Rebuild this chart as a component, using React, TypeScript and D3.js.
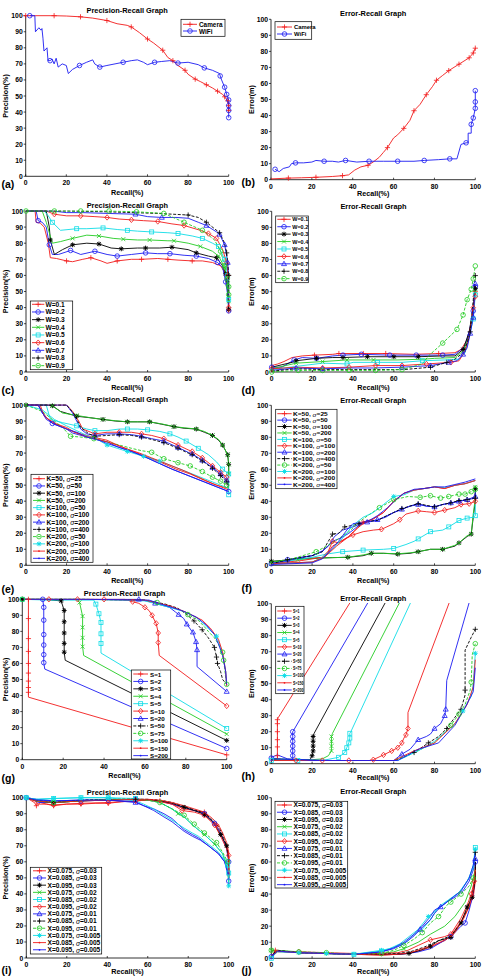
import React from 'react';
import * as d3 from 'd3';

// Each point: [recall %, value, 1 if a marker is drawn there]
type Pt = number[];

// ---------- (a)/(b) Camera vs WiFi ----------
const camWifiNames = ['Camera', 'WiFi'];
const aLines: Pt[][] = [
  [[0,100,1],[5,100],[14,100,1],[20,99.8],[27,99.3,1],[33,98.5],[40,97,1],[45,95],[50,94],[52,93,1],[56,89.5],[60,85.5,1],[63,83],[67.5,78.5,1],[70,74],[72.5,72,1],[75,69],[78.5,66,1],[80,63.5],[83.5,60.5,1],[86,59],[89,57,1],[92,55],[94.5,53,1],[97,51],[98,49.5,1],[99.5,47,1],[100,44,1],[100,41,1]],
  [[2,100,1],[4.5,100],[4.8,90],[6.5,92.5],[7.5,91],[8,92],[8.5,86],[9,78],[10.5,80],[11,72],[12,72,1],[13,73],[14,70],[15,73.5],[16,68],[18,70],[20,69],[21,64],[23,66.5],[26.5,69,1],[30,71],[33,72.5],[34,70],[36.5,68,1],[40,69],[44,70],[48,71,1],[52,72],[55,72.5],[58,71],[60,69.5],[63.5,71,1],[67,71.5],[71,72],[75,70.5,1],[80,71],[85,69.5],[88,67.5,1],[92,66],[95.5,64],[95.8,62.5,1],[96.5,60],[98,55.5,1],[99,51,1],[100,47.5,1],[100,44,1],[100,41,1],[100,36.5,1]],
];
const bLines: Pt[][] = [
  [[0,0.5],[8.5,1,1],[15,1.2],[22,1.5,1],[30,2],[35,2.5,1],[38,3],[41,6],[44,8],[47.5,9,1],[50,11],[53,14],[55,17],[57,20,1],[60,26],[62,28],[65,32,1],[68,37],[70,43,1],[73,47],[76,53,1],[79,58],[81,62,1],[84,65],[87,68,1],[92,72,1],[97,76,1],[99,79,1],[100,82,1]],
  [[2,6.5,1],[4,5],[6,7],[9,8],[10,10],[12,10.5,1],[16,10.5],[20,11],[22,12],[26,11.5,1],[30,11.5],[33,11],[36.5,12,1],[42,11],[48,11.5,1],[55,11.5],[62,11.5,1],[70,11.5],[75,12,1],[82,12.5],[87.5,13,1],[91,13],[93,22],[95.5,23,1],[96.5,23],[96.5,29],[98,29],[98,34.5,1],[99,38.5,1],[100,44.5,1],[100,48.5,1],[100,49],[100,55.5,1]],
];

// ---------- (c)/(d) weight W ----------
const wNames = ['W=0.1','W=0.2','W=0.3','W=0.4','W=0.5','W=0.6','W=0.7','W=0.8','W=0.9'];
const cLines: Pt[][] = [
  [[0,100],[4.5,100],[5,93],[7,92.5],[9,90],[11,80],[12,71],[15,70.5],[20,69,1],[23,68.5],[28,70],[32,71,1],[37,69],[40,67.5],[45,69,1],[52,70],[57,70,1],[65,70.5],[70,70,1],[75,69.5],[82,69,1],[87,69],[92,68],[96,66],[98,62],[99,55],[100,45],[100,38,1]],
  [[0,100],[5,100],[6,94,1],[8,93],[10,90],[11.5,79,1],[13,73],[16,73],[22,75.5,1],[27,73],[34,75,1],[40,73],[45,72,1],[52,73],[59,74,1],[65,73.5],[71,73.5,1],[78,72.5],[84,72,1],[90,70.5],[94.5,68,1],[97,65],[98.5,56,1],[99.5,48],[100,38,1]],
  [[0,100],[10,100],[11.5,90],[12,82,1],[14,73],[18,76],[23,79,1],[30,80],[36,79.5,1],[42,77],[47,76.5,1],[55,77],[59,77,1],[66,77],[72,77.5,1],[80,76],[84,74,1],[90,72],[94,71,1],[97,66],[98.5,61,1],[99.5,52],[100,39,1]],
  [[0,100],[8,100],[10,93],[13,80],[17,81],[23,83,1],[30,85],[36,84.5,1],[43,83],[48,82.5,1],[55,82],[61,82,1],[70,81.5],[73,81.5,1],[80,80],[86,78,1],[92,75],[95,72,1],[98,65,1],[99.5,55,1],[100,44,1]],
  [[0,100],[9,100],[11,97],[13,93,1],[17,88],[25,89,1],[30,89],[38,89.5,1],[45,88.5],[50,88,1],[55,87.5],[62,87,1],[70,86.5],[75,86,1],[82,84.5],[87,83,1],[92,80],[95,78,1],[98,70,1],[99.5,60,1],[100,45,1]],
  [[0,100],[10,100],[14,98,1],[20,97],[27,97,1],[34,96.5],[40,96,1],[46,95],[52,94.5,1],[58,94],[65,93.5,1],[72,92],[78,91,1],[86,88],[90,86,1],[94,83,1],[97,76],[99,68,1],[99.7,60,1],[100,50],[100,40,1]],
  [[0,100],[13,100],[20,99],[28,99],[40,98.5],[54,98,1],[60,96.5],[67,96,1],[74,96],[80,95.5],[85,93],[89,91,1],[94,87],[95.5,85.5,1],[98,79,1],[99,72],[99.5,68,1],[100,60],[100,42]],
  [[0,100],[20,100],[40,99.5],[65,98.5],[80,97.5,1],[85,96],[89,93,1],[93,89],[95.5,86.5,1],[98,80],[99,74,1],[99.5,68],[100,60,1],[100,45]],
  [[0,100,1],[14,100,1],[27,100,1],[41,100,1],[54.5,99.5,1],[68,98.5,1],[78,93,1],[87,88,1],[93,82],[96,75,1],[98,66,1],[99.3,58,1],[100,53,1],[100,48,1],[100,42]],
];
const dLines: Pt[][] = [
  [[0,4],[3,5],[6,6.5],[10,9],[15,10],[21,10.5,1],[30,11],[33,11.5,1],[45,11.5,1],[56,11.5,1],[70,11],[82,11.5,1],[90,12],[93,14],[96,20],[98,30],[99,40],[100,50,1],[100,54]],
  [[0,3,1],[5,3],[11,7.5,1],[15,9],[22,8.5,1],[30,10],[35,10.5,1],[44,11,1],[58,10.5,1],[71,10.5,1],[84,10.5,1],[90,11],[95,16],[97,25],[99,38,1],[100,53,1]],
  [[0,3],[10,6],[12,7,1],[22,8.5,1],[30,9],[35,9,1],[47,9.5,1],[60,9.5,1],[72,9.5,1],[84,10],[90,10],[94,14,1],[97,25],[99,40],[100,52,1]],
  [[0,2],[12,5.5,1],[25,6.5,1],[37,7.5,1],[50,7.5,1],[62,7.5],[75,8],[80,8.5],[90,9],[94,13],[97,22],[99,35],[100,50,1]],
  [[0,1.5],[12,3.5],[25,5.5],[37,5,1],[40,6],[52,6,1],[64,6],[74,7,1],[85,7.5],[92,8],[95,12],[97,22],[99,33,1],[100,48,1]],
  [[0,2,1],[12,3],[25,2.5,1],[38,3,1],[51,4,1],[64,4,1],[76,5,1],[88,6,1],[92,7],[95,13],[97,22],[99,40,1],[100,47,1]],
  [[0,1],[12,2.5,1],[25,2,1],[38,2.5],[50,2.5],[64,3,1],[78,4,1],[87,6,1],[91,7],[94,11,1],[96,15],[97.5,24,1],[99,34,1],[100,55,1]],
  [[0,0.5],[12,2],[25,1.5],[40,1.5],[50,1.5],[65,1.5],[78,3,1],[86,6,1],[90,8],[94,12],[96,18],[97.5,25,1],[99,45],[100,60,1]],
  [[0,0,1],[13,1,1],[25,1,1],[38,1,1],[51,1,1],[64,1.5,1],[74,5],[77,10],[84,18,1],[91,26.5,1],[94,35.5,1],[96,45,1],[98,51.5,1],[99,58,1],[100,66,1]],
];

// ---------- (e)/(f) K and sigma ----------
const kNames = ['K=50, σ=25','K=50, σ=50','K=50, σ=100','K=50, σ=200','K=100, σ=50','K=100, σ=100','K=100, σ=200','K=100, σ=400','K=200, σ=50','K=200, σ=100','K=200, σ=200','K=200, σ=400'];
const eLines: Pt[][] = [
  [[0,100],[7,100],[9,93],[13,89],[20,86],[24,83],[33,80],[40,78],[46,74.5],[53,71],[60,67.5],[67,64],[74,60],[81,57],[88,53],[94,50],[100,48]],
  [[0,100],[6,100],[8,95],[13,88.5,1],[20,85],[23,82.5],[33,79],[40,77],[45,74],[52,71],[58,68],[65,64],[72,60],[80,56],[88,52],[94,49],[100,46,1]],
  [[0,100,1],[10,100],[13,99.5,1],[17,96],[25,93,1],[32,92],[38,91,1],[44,90],[50,89.5,1],[55,89.5],[61,89.5,1],[67,88],[73,86.5,1],[78,85.5],[84,85,1],[88,83],[92,81,1],[95,78],[97,75,1],[99.5,69,1],[100,63,1],[100,57]],
  [[0,100,1],[10,100],[13,99.5,1],[18,95],[25,93.5,1],[32,92],[38,91,1],[44,90.2],[50,89.5,1],[56,89.5],[61,89.5,1],[67,88.2],[73,86.5,1],[78,85.8],[84,85,1],[88,83.5],[92,81,1],[95,78.5],[97,75,1],[99.5,69,1],[100,63,1],[100,57,1]],
  [[0,100],[10,100],[12,91],[18,89],[25,87,1],[30,85],[34,84,1],[40,84],[46,85],[50,85,1],[55,85],[60,84.5,1],[66,83.5],[71,82,1],[75,80],[79,77.5,1],[85,73,1],[90,69],[94,64.5],[97,60,1],[100,57,1],[100,44,1]],
  [[0,100],[20,100],[23,96],[26,90],[28,85],[34,82,1],[40,83],[46,83,1],[52,83],[57,82,1],[62,81],[68,79,1],[75,75,1],[80,72],[82,71,1],[87,67,1],[92,62,1],[96,58,1],[99,55,1],[100,52]],
  [[0,100],[20,100],[23,95],[27,85],[30,82],[34,81,1],[40,82],[46,82,1],[52,81.5],[57,80.5,1],[62,79],[68,77.5,1],[75,73.5,1],[80,70.5],[82,69.5,1],[87,65.5,1],[92,61,1],[96,57,1],[99,53,1],[100,50]],
  [[0,100],[20,100],[24,94],[27,86],[31,82],[34,80.5,1],[40,81],[46,81.5,1],[52,81],[57,80,1],[62,78.5],[68,76.5,1],[75,73,1],[80,70],[82,69,1],[87,65,1],[92,60.5,1],[96,56,1],[99,52,1],[100,49]],
  [[0,100],[8,96],[14,90],[18,86],[22,80.5,1],[27,80],[33.5,79,1],[40,77],[46,75],[52,73],[57,71.5],[62,70.5,1],[68,66.5,1],[75,64,1],[81,62,1],[87,58.5,1],[92,55,1],[96,52.5,1],[99,50,1],[100,48]],
  [[0,100],[8,97],[14,91],[20,87],[25,84],[30,81],[36,78],[40,75,1],[45,73],[50,71,1],[58,68,1],[66,65,1],[72,62],[80,58],[88,54],[94,51],[100,48]],
  [[0,100],[6,100],[10,92],[15,88],[22,84],[28,81],[34,79],[40,77],[45,75],[50,72.5],[56,70],[62,67],[70,63],[78,59],[85,55],[92,51],[100,47]],
  [[0,100],[6,100],[10,91],[14,88],[20,85],[25,83],[30,80],[36,78],[40,76],[45,74],[52,71],[58,68],[65,64],[72,60],[80,56],[88,52],[94,49],[100,46]],
];
const fLines: Pt[][] = [
  [[0,1],[20,2],[26,5],[30,12],[34,15],[38,18],[42,23],[45,27,1],[50,29],[55,33],[60,40],[65,45],[70,47],[75,48],[80,49],[85,48],[90,50],[95,51],[100,53]],
  [[0,1,1],[8,3.5,1],[15,5],[20,6],[25,8.5],[30,15],[34,17],[38,20],[43,25],[47,27],[52,28],[55,30],[60,33],[64,35],[68,37],[72,38.5],[76,37],[80,36.5],[84,38],[88,39],[92,40],[96,41],[100,42]],
  [[0,2.5,1],[5,3],[12,4],[20,4.5],[30,4.8],[37.5,5,1],[45,6],[49,7.5,1],[55,7.5],[62,7,1],[68,7.5],[72,8.5,1],[78,10],[84,10,1],[90,12],[92,14,1],[96,18],[98,19.5,1],[99,30],[100,40],[100,48,1]],
  [[0,2,1],[6,3],[13,3.5,1],[20,4.2],[30,4.8],[37.5,5,1],[45,6.5],[49,7.5,1],[55,7.5],[62,7.2,1],[68,7.8],[72,8.5,1],[78,10],[84,10,1],[90,12.5],[92,14,1],[96,18.5],[98,19.5,1],[99,32],[100,42],[100,49,1]],
  [[0,1],[10,3],[20,5],[27,7],[35,8.5,1],[45,9.5,1],[55,10],[60,10.5,1],[66,13],[70,15],[72,16.5,1],[78,21,1],[84,22],[87,24,1],[92,28,1],[96,29.5,1],[99,30],[100,31,1],[100,38]],
  [[0,1],[15,3],[20,4],[25,5],[28,9],[30,15,1],[33,14],[37,17],[40,19,1],[45,21],[50,22],[54,22.5,1],[60,26],[63,28.5,1],[66,32],[72,34,1],[76,33.5],[80,33,1],[85,34.5,1],[90,36],[93,38,1],[97,38.5,1],[100,40,1],[100,45]],
  [[0,1],[8,3],[15,5],[20,6],[25,9],[28,12],[31,18],[35,22],[40,24],[44,26],[47,27,1],[52,28.5,1],[56,30],[60,33],[64,35,1],[68,37],[72,38,1],[76,37],[80,36.5,1],[84,38],[88,39,1],[92,40,1],[96,41,1],[100,43,1],[100,46]],
  [[0,1],[8,3.5,1],[15,5],[20,6],[25,8.5],[30,19.5,1],[33,20],[36,24,1],[40,25],[43,26,1],[47,27.5],[52,28],[55,30],[60,33],[64,35.5,1],[68,37],[72,38.5,1],[76,37.5],[80,36.5,1],[84,38],[88,39,1],[92,40.5,1],[96,41,1],[100,42,1],[100,45]],
  [[0,2],[10,4],[22,8.5,1],[30,14],[38,21],[45,29],[53,36,1],[60,41,1],[67,43],[73,42.5,1],[78,43.5,1],[83,42,1],[87,43,1],[92,44.5,1],[95,44.5,1],[98,46,1],[100,47.5,1],[100,50]],
  [[0,1],[20,2],[25,5],[30,10],[35,17],[40,25],[45,30],[50,33],[55,38],[60,43,1],[65,44],[70,47],[75,48],[80,49],[85,48.5],[90,50],[95,51],[100,53]],
  [[0,1],[20,2],[26,5],[32,12],[38,18],[42,23],[45,26],[50,29],[55,33],[60,40],[65,45],[70,47],[80,49],[85,48],[90,50],[95,51],[100,53]],
  [[0,0.5],[20,1.5],[25,4],[28,8],[33,15],[37,22],[40,26],[45,27],[48,28],[52,31],[57,36],[62,42],[65,45],[70,47.5],[75,48],[80,49],[85,49],[90,50.5],[95,52],[100,54]],
];

// ---------- (g)/(h) step S ----------
const sNames = ['S=1','S=2','S=3','S=4','S=5','S=10','S=20','S=50','S=75','S=100','S=150','S=200'];
const gLines: Pt[][] = [
  [[0,100,1],[3,100,1],[3,88,1],[3,75.5,1],[3,67.5,1],[3,60,1],[3,54,1],[3,49,1],[3,45,1],[3,42,1],[3,39],[100,3,1]],
  [[0,100],[10,100,1],[10.5,95,1],[10.5,87,1],[10.5,78,1],[10.5,71.5,1],[10.5,65.5,1],[10.5,60.5,1],[11,56.5],[100,7,1]],
  [[0,100,1],[10,100],[19,99,1],[20.5,93,1],[20.5,86,1],[20.5,79,1],[20.5,72.5,1],[20.5,67,1],[21,62],[100,12,1]],
  [[0,100],[27,100],[28,98,1],[29.5,89.5,1],[29.5,82.5,1],[29.5,76,1],[29.5,70.5,1],[30,65],[100,16,1]],
  [[0,100,1],[13,99.5],[35,99.5],[36,97,1],[37.5,91,1],[38.5,85.5,1],[38.5,78.5,1],[38.5,72.5,1],[38.5,66.5],[100,19.5,1]],
  [[0,100],[13,100,1],[27,100,1],[40,100,1],[50,100],[54,98.5,1],[57,97.5],[60,95,1],[62,93],[63.5,90,1],[65,86],[65.5,85,1],[66.5,79,1],[66.5,73,1],[67,65],[100,33.5,1]],
  [[0,100],[20,100],[40,100],[57,100,1],[64,98],[65,97.5,1],[72,95],[75,92],[76.5,90.5,1],[79,88],[80.5,84.5,1],[83,80],[83.5,79.5,1],[85,73.5,1],[85.5,68.5,1],[85.5,58],[100,42.5,1]],
  [[0,100],[30,100],[60,99.5],[70,97],[76,94.5],[80,91],[84,86.5,1],[88,81,1],[91,76],[94,70,1],[95,64,1],[95.5,60,1],[97,55],[98,50],[100,47]],
  [[0,100,1],[30,100],[60,99.5],[66,98,1],[71,96],[78,93],[81,90.5,1],[86,87],[89,83],[91,80],[94,76],[96,72],[98,67,1],[98.5,62,1],[99,57],[99.5,51],[100,47,1]],
  [[0,100],[30,100],[60,99],[72,95],[80,92],[86,88],[90,83],[95,77,1],[97,70],[98.5,63],[99.5,55],[100,46]],
  [[0,100],[30,100],[60,99.5],[72,96],[80,92],[88,87],[92,82],[96,75],[98,67],[99.5,55],[100,46]],
  [[0,100],[30,100],[62,99.5],[68,97],[78,93],[85,89],[90,84],[94,78],[96,72],[98,65],[99.5,55],[100,47]],
];
const hLines: Pt[][] = [
  [[0,3],[3,3],[3,5,1],[3,10.5,1],[3,15,1],[3,20,1],[3,25,1],[3,27.5,1],[3.5,29],[100,226]],
  [[0,3.5,1],[5,3],[10.5,2.5],[10.5,5,1],[10.5,8,1],[10.5,11,1],[10.5,14,1],[10.5,17,1],[10.5,20,1],[11,21],[100,216]],
  [[0,2.5],[10,2],[19,2.5],[20,5,1],[20.5,8,1],[20.5,11,1],[20.5,14,1],[20.5,17,1],[21,19],[100,204]],
  [[0,3],[20,2.5],[25,3],[28,5],[29.5,8,1],[29.5,11,1],[29.5,14,1],[29.5,17,1],[30,19],[100,193]],
  [[0,2,1],[13,2,1],[25,2],[33,4,1],[36,7,1],[37,10,1],[38,13,1],[38.5,16,1],[38.5,19,1],[39,20],[100,188]],
  [[0,2],[12,2,1],[25,2,1],[38,2,1],[48,2],[50,2.5,1],[55,5.5,1],[59,8,1],[62,10,1],[64,13,1],[65,16],[66,18,1],[67,22,1],[67,32],[100,144]],
  [[0,3],[30,2],[60,2],[64,6,1],[68,9],[72,15,1],[76,17],[78,18.5],[80,22,1],[83,25],[85,30,1],[85.5,34,1],[86,52],[100,114]],
  [[0,2],[60,2],[65,4],[70,7,1],[77,13,1],[82,17],[86,22,1],[90,29],[93,34,1],[95,43],[95,46,1],[95,71],[98,79],[100,84,1]],
  [[0,2],[60,2],[70,7],[80,13],[88,24,1],[92,31,1],[95,37],[97.5,46],[98,51,1],[98.5,68],[100,75,1]],
  [[0,2],[62,2],[72,8],[80,14],[90,25],[94,33,1],[97,40],[98,42],[99,50],[100,69,1]],
  [[0,2],[60,2],[70,8],[80,13],[90,25],[96,37],[99,48],[100,65]],
  [[0,4],[3,5.5],[8,3],[20,2],[62,2],[72,9],[82,13],[90,24],[95,35],[99,45],[100,60]],
];

// ---------- (i)/(j) X and sigma ----------
const xNames = ['X=0.075, σ=0.03','X=0.085, σ=0.03','X=0.095, σ=0.03','X=0.075, σ=0.02','X=0.085, σ=0.02','X=0.095, σ=0.02','X=0.075, σ=0.01','X=0.085, σ=0.01','X=0.095, σ=0.01','X=0.075, σ=0.005','X=0.085, σ=0.005','X=0.095, σ=0.005'];
const iLines: Pt[][] = [
  [[0,100,1],[4,97],[5,95,1],[7,97],[10,96],[13.5,95,1],[20,96],[27,96,1],[34,96.5],[40.5,96.5,1],[47,97.5],[54,98,1],[60,98.5],[66,98,1],[72,96],[78,93],[83,92],[88,91,1],[92,85],[94,83,1],[96,78],[98,72],[99,68],[100,62],[100,50]],
  [[0,100,1],[3,99],[6,97],[13.5,97,1],[27,98,1],[40.5,98.5,1],[54,99,1],[60,98.5],[66,98],[72,96],[78,94],[83,92],[88,90,1],[93,84,1],[96,78],[99,68],[100,60,1],[100,48,1]],
  [[0,100],[5,98],[13.5,97,1],[27,98],[40.5,98.5],[54,99],[60,98.5],[66,98],[72,96.5],[78,94,1],[83,92],[88,89.5,1],[92,85],[96,77,1],[99,70,1],[100,62],[100,50]],
  [[0,100],[5,98],[13.5,97,1],[27,98],[40.5,99],[54,99],[60,98.5],[66,97],[72,93],[75,90,1],[78,88],[83,82],[88,77,1],[93,71,1],[97,65],[99.5,55],[100,45]],
  [[0,100,1],[5,99],[13.5,99.5,1],[27,100,1],[40.5,100,1],[54,99.5,1],[60,98.5],[66,97],[72,93],[78,88],[83,82],[88,77],[93,71],[97,65],[99.5,58,1],[100,53,1],[100,45]],
  [[0,100],[4,98],[6,96],[10,96],[13.5,95.5,1],[20,96],[27,96.5,1],[40.5,97,1],[54,98,1],[60,98.5],[66,97.5],[72,96],[77,92,1],[83,91],[88,89,1],[93,83,1],[96,76],[99,68],[100,64,1],[100,50]],
  [[0,100],[5,99],[13.5,98],[27,98.5],[40.5,98.5],[54,97,1],[58,95],[63,93],[68,90],[72,87],[78,80],[82,77],[85,75],[90,70],[95,65],[98,60],[100,50]],
  [[0,100],[5,98.5],[13.5,97],[27,98.5],[40.5,99],[54,99,1],[60,99],[66,98.5],[72,97],[78,94.5],[83,92.5],[88,90.5],[92,86],[95,82],[97,77],[99,70],[100,64],[100,50]],
  [[0,100],[5,98],[13.5,97,1],[27,98],[40.5,99],[54,99],[60,98.5],[66,97,1],[72,93],[78,89,1],[83,83.5,1],[88,78,1],[94,72,1],[97,66],[99.5,60,1],[100,55],[100,46]],
  [[0,100,1],[5,99],[13.5,99.5,1],[27,100,1],[40.5,100,1],[54,98],[58,96],[63,93],[68,89],[72,86],[78,81],[82,78],[85,76],[90,71],[95,66],[98,61],[100,55],[100,45,1]],
  [[0,100],[5,98],[13.5,97],[27,98],[40.5,98.5],[54,99],[60,99],[66,98.5],[72,97],[78,95],[83,93],[88,91],[92,87],[95,83],[97,78],[99,72],[100,66],[100,52]],
  [[0,100],[5,98.5],[13.5,98],[27,98.5],[40.5,98.5],[54,97.5],[58,95],[63,92],[68,88],[72,85],[78,79],[82,76],[86,73.5],[90,70],[95,65],[98,60],[100,52]],
];
const jLines: Pt[][] = [
  [[0,1],[2,5,1],[6,4.5],[13.5,3.5],[27,3],[40.5,2.5],[54,2],[62,2.5],[67,3],[74,5],[78,7],[85,11],[88,14],[93,23],[96,30],[99,38],[100,48],[100,60]],
  [[0,1,1],[3,4.5],[13.5,3.5],[27,3],[40.5,2.5],[54,2.5],[62,2.5],[67,3],[72,4],[78,6],[86,12],[88,13.5,1],[93,20],[95,22,1],[97,30],[99,40],[100,52],[100,60,1]],
  [[0,0.5],[2,4.5],[13.5,3.5],[27,3],[40.5,2.5],[54,2.5],[62,2.5],[67.5,3,1],[73,5],[78,7.5,1],[82,11],[88,13,1],[93,22,1],[96,32,1],[98.5,38,1],[99.5,45],[100,50],[100,60]],
  [[0,5,1],[3,5],[13.5,4],[27,3],[40.5,2.5],[54,3],[60,4],[65,6,1],[72,10],[78,15],[85,20],[90,26],[95,35],[98,45],[100,55]],
  [[0,0,1],[3,4.5],[13.5,3.5],[27,3],[40.5,2.5,1],[54,4.5,1],[58,6],[63,8],[67,11],[70,15],[74,18],[78,24],[81,30],[84,33],[88,37],[93,42],[97,50],[99,58],[100,69,1]],
  [[0,1],[3,4],[13.5,4,1],[27,3.5],[40.5,3],[54,3,1],[62,3.5],[67,5],[72,8],[78,11.5,1],[85,13.5],[88,15,1],[93,25],[96,33],[98,40,1],[99.5,48,1],[100,56]],
  [[0,1],[3,4.5],[13.5,3.5],[27,3],[40.5,2.5],[54,4],[60,6],[65,9],[70,14],[73,18,1],[78,24],[80,28],[83,32,1],[86,35],[90,38],[94,42],[97,48],[99,55],[100,62,1]],
  [[0,1],[3,5],[13.5,3.5],[27,3],[40.5,2.5],[54,2.5],[62,3],[68,4],[75,7],[82,11],[88,14],[93,22],[96,30],[98.5,40],[100,50],[100,66,1]],
  [[0,5,1],[3,4.5],[13.5,4,1],[27,3.5,1],[40.5,2.5],[54,3,1],[60,5],[65,8,1],[70,12],[74,16,1],[78,22],[82,26,1],[86,33],[88,35,1],[93,40,1],[97,45],[99,50,1],[100,55]],
  [[0,0.5],[3,4],[13.5,3.5,1],[27,3,1],[40.5,2.5,1],[54,5,1],[58,6],[63,9],[68,14],[72,18],[77,26,1],[80,29],[83,33],[87,36.5],[92,41],[96,48],[99,56],[100,68,1]],
  [[0,1],[3,4.5],[13.5,3.5],[27,3],[40.5,2.5],[54,2],[62,2.5],[68,3.5],[74,6],[80,8.5],[86,12],[90,16],[94,24],[97,32],[99,42],[100,55]],
  [[0,1],[3,4.5],[13.5,3.5],[27,3],[40.5,2.5],[54,4],[60,6.5],[65,10],[70,15],[74,20],[78,26],[80,30],[84,33],[88,37],[93,42],[97,50],[99,58],[100,66]],
];

// Axis ticks
const xTicks = [0, 20, 40, 60, 80, 100];
const yTicks = [0, 10, 20, 30, 40, 50, 60, 70, 80, 90, 100];

// Matlab-like line styles, shared by every multi-series panel
const RED = '#f21b1b', BLUE = '#1b1bf2', BLACK = '#000000', GREEN = '#22cc22', CYAN = '#10dde6';
const seriesColors = [RED, BLUE, BLACK, GREEN, CYAN, RED, BLUE, BLACK, GREEN, CYAN, RED, BLUE];
const seriesMarkers = ['+', 'o', '*', 'x', 's', 'd', '^', '+', 'o', '*', '.', '.'];
const seriesDashed = [false, false, false, false, false, false, false, true, true, false, false, false];

const FONT = '"Liberation Sans", Arial, Helvetica, sans-serif';

function Marker({ type, x, y, color }: { type: string; x: number; y: number; color: string }) {
  const sw = 0.8;
  if (type === 'o') return <circle cx={x} cy={y} r={2.3} fill="none" stroke={color} strokeWidth={sw} />;
  if (type === '+') return <path d={`M${x - 2.6},${y}H${x + 2.6}M${x},${y - 2.6}V${y + 2.6}`} stroke={color} strokeWidth={sw} />;
  if (type === 'x') return <path d={`M${x - 2},${y - 2}L${x + 2},${y + 2}M${x - 2},${y + 2}L${x + 2},${y - 2}`} stroke={color} strokeWidth={sw} />;
  if (type === '*') return <path d={`M${x - 2.4},${y}H${x + 2.4}M${x},${y - 2.4}V${y + 2.4}M${x - 1.8},${y - 1.8}L${x + 1.8},${y + 1.8}M${x - 1.8},${y + 1.8}L${x + 1.8},${y - 1.8}`} stroke={color} strokeWidth={sw * 1.2} />;
  if (type === 's') return <rect x={x - 2} y={y - 2} width={4} height={4} fill="none" stroke={color} strokeWidth={sw} />;
  if (type === 'd') return <path d={`M${x},${y - 2.7}L${x + 2.3},${y}L${x},${y + 2.7}L${x - 2.3},${y}Z`} fill="none" stroke={color} strokeWidth={sw} />;
  if (type === '^') return <path d={`M${x},${y - 2.6}L${x + 2.5},${y + 1.8}L${x - 2.5},${y + 1.8}Z`} fill="none" stroke={color} strokeWidth={sw} />;
  return <circle cx={x} cy={y} r={0.9} fill={color} />;
}

function LegendText({ text, x, y, fs, sx }: { text: string; x: number; y: number; fs: number; sx: number }) {
  const parts = text.split('σ');
  return (
    <text transform={`translate(${x},${y}) scale(${sx},1)`} fontSize={fs} fontWeight="bold" fontFamily={FONT} dominantBaseline="central">
      {parts[0]}
      {parts.length > 1 && <tspan fontStyle="italic" fontWeight="normal">σ</tspan>}
      {parts.length > 1 && parts[1]}
    </text>
  );
}

interface LegendSpec { x: number; y: number; w: number; h: number; first: number; step: number; l0: number; l1: number; tx: number; fs: number; sx: number; }
interface PanelSpec {
  id: string; x0: number; x1: number; yTop: number; yBot: number;
  title: string; titleY: number; yLabel: string; yLabelX: number; xLabelY: number;
  tag: string; tagX: number; tagY: number;
  names: string[]; lines: Pt[][]; colors: string[]; markers: string[]; dashed: boolean[];
  legend: LegendSpec;
}

function Panel({ p }: { p: PanelSpec }) {
  const x = d3.scaleLinear().domain([0, 100]).range([p.x0, p.x1]);
  const y = d3.scaleLinear().domain([0, 100]).range([p.yBot, p.yTop]);
  const line = d3.line<Pt>().x((d) => x(d[0])).y((d) => y(d[1]));
  const clipId = `clip-${p.id}`;
  const lg = p.legend;
  return (
    <g>
      <defs>
        <clipPath id={clipId}>
          <rect x={p.x0 - 4} y={p.yTop - 0.8} width={p.x1 - p.x0 + 8} height={p.yBot - p.yTop + 4} />
        </clipPath>
      </defs>
      <text x={(p.x0 + p.x1) / 2} y={p.titleY} textAnchor="middle" dominantBaseline="central" fontSize={7.4} fontWeight="bold" fontFamily={FONT}>{p.title}</text>
      {/* axes */}
      <line x1={p.x0} x2={p.x0} y1={p.yTop} y2={p.yBot} stroke="#000" strokeWidth={0.8} />
      <line x1={p.x0} x2={p.x1} y1={p.yBot} y2={p.yBot} stroke="#000" strokeWidth={0.8} />
      {yTicks.map((t) => (
        <g key={`y${t}`}>
          <line x1={p.x0 - 2} x2={p.x0} y1={y(t)} y2={y(t)} stroke="#000" strokeWidth={0.7} />
          <text x={p.x0 - 3} y={y(t)} textAnchor="end" dominantBaseline="central" fontSize={6.8} fontWeight="bold" fontFamily={FONT}>{t}</text>
        </g>
      ))}
      {xTicks.map((t) => (
        <g key={`x${t}`}>
          <line x1={x(t)} x2={x(t)} y1={p.yBot} y2={p.yBot - 2} stroke="#000" strokeWidth={0.7} />
          <text x={x(t)} y={p.yBot + 6.5} textAnchor="middle" dominantBaseline="central" fontSize={6.8} fontWeight="bold" fontFamily={FONT}>{t}</text>
        </g>
      ))}
      <text x={(p.x0 + p.x1) / 2} y={p.xLabelY} textAnchor="middle" dominantBaseline="central" fontSize={7.2} fontWeight="bold" fontFamily={FONT}>Recall(%)</text>
      <text transform={`translate(${p.yLabelX},${(p.yTop + p.yBot) / 2}) rotate(-90)`} textAnchor="middle" dominantBaseline="central" fontSize={7.2} fontWeight="bold" fontFamily={FONT}>{p.yLabel}</text>
      <text x={p.tagX} y={p.tagY} dominantBaseline="central" fontSize={10.5} fontWeight="bold" fontFamily={FONT}>{p.tag}</text>
      {/* series */}
      <g clipPath={`url(#${clipId})`}>
        {p.lines.map((s, i) => (
          <path key={i} d={line(s) || ''} fill="none" stroke={p.colors[i]} strokeWidth={0.9} strokeDasharray={p.dashed[i] ? '3,1.6' : undefined} strokeLinejoin="round" />
        ))}
      </g>
      {p.lines.map((s, i) => (
        <g key={`m${i}`}>
          {s.filter((d) => d[2] === 1).map((d, k) => (
            <Marker key={k} type={p.markers[i]} x={x(d[0])} y={y(d[1])} color={p.colors[i]} />
          ))}
        </g>
      ))}
      {/* legend */}
      <rect x={lg.x} y={lg.y} width={lg.w} height={lg.h} fill="#fff" stroke="#000" strokeWidth={0.7} />
      {p.names.map((n, i) => {
        const yy = lg.first + i * lg.step;
        return (
          <g key={`l${i}`}>
            <line x1={lg.l0} x2={lg.l1} y1={yy} y2={yy} stroke={p.colors[i]} strokeWidth={0.9} strokeDasharray={p.dashed[i] ? '3,1.6' : undefined} />
            <Marker type={p.markers[i]} x={(lg.l0 + lg.l1) / 2} y={yy} color={p.colors[i]} />
            <LegendText text={n} x={lg.tx} y={yy} fs={lg.fs} sx={lg.sx} />
          </g>
        );
      })}
    </g>
  );
}

const PR = 'Precision-Recall Graph';
const ER = 'Error-Recall Graph';
const PY = 'Precision(%)';
const EY = 'Error(m)';
const twoColors = [RED, BLUE];
const twoMarkers = ['+', 'o'];
const twoDashed = [false, false];

const panels: PanelSpec[] = [
  { id: 'a', x0: 25.7, x1: 228.7, yTop: 15.7, yBot: 176.3, title: PR, titleY: 10, yLabel: PY, yLabelX: 5, xLabelY: 192, tag: '(a)', tagX: 1.5, tagY: 183.5,
    names: camWifiNames, lines: aLines, colors: twoColors, markers: twoMarkers, dashed: twoDashed,
    legend: { x: 181, y: 19.3, w: 44, h: 17, first: 24.3, step: 6.7, l0: 183, l1: 197, tx: 199, fs: 6.4, sx: 1 } },
  { id: 'b', x0: 271, x1: 475.3, yTop: 19.3, yBot: 179.7, title: ER, titleY: 13.7, yLabel: EY, yLabelX: 251.7, xLabelY: 193, tag: '(b)', tagX: 241.5, tagY: 182,
    names: camWifiNames, lines: bLines, colors: twoColors, markers: twoMarkers, dashed: twoDashed,
    legend: { x: 275, y: 21.7, w: 36.7, h: 17.6, first: 27, step: 7, l0: 277, l1: 292, tx: 294, fs: 6.2, sx: 0.95 } },
  { id: 'c', x0: 26, x1: 228.7, yTop: 211, yBot: 372, title: PR, titleY: 205.3, yLabel: PY, yLabelX: 5, xLabelY: 387, tag: '(c)', tagX: 1.5, tagY: 390,
    names: wNames, lines: cLines, colors: seriesColors, markers: seriesMarkers, dashed: seriesDashed,
    legend: { x: 30.3, y: 301, w: 42.4, h: 68.7, first: 304.3, step: 7.67, l0: 32, l1: 44.3, tx: 45.5, fs: 6.6, sx: 1 } },
  { id: 'd', x0: 271.7, x1: 475.3, yTop: 211.3, yBot: 372, title: ER, titleY: 206, yLabel: EY, yLabelX: 251.7, xLabelY: 387.5, tag: '(d)', tagX: 241.5, tagY: 389.5,
    names: wNames, lines: dLines, colors: seriesColors, markers: seriesMarkers, dashed: seriesDashed,
    legend: { x: 275.7, y: 216, w: 32.6, h: 66.7, first: 219.3, step: 7.42, l0: 277.3, l1: 290.7, tx: 292.3, fs: 6.2, sx: 0.88 } },
  { id: 'e', x0: 26, x1: 228.7, yTop: 405, yBot: 565.3, title: PR, titleY: 399.7, yLabel: PY, yLabelX: 5, xLabelY: 580.7, tag: '(e)', tagX: 1.5, tagY: 588.5,
    names: kNames, lines: eLines, colors: seriesColors, markers: seriesMarkers, dashed: seriesDashed,
    legend: { x: 31, y: 474.3, w: 62, h: 88, first: 478.7, step: 7.24, l0: 33, l1: 45, tx: 46.5, fs: 6.4, sx: 1.05 } },
  { id: 'f', x0: 271.3, x1: 475.3, yTop: 405.3, yBot: 565.3, title: ER, titleY: 400, yLabel: EY, yLabelX: 251.7, xLabelY: 580, tag: '(f)', tagX: 241.5, tagY: 588,
    names: kNames, lines: fLines, colors: seriesColors, markers: seriesMarkers, dashed: seriesDashed,
    legend: { x: 275.7, y: 409.3, w: 61.3, h: 79.4, first: 413.7, step: 6.42, l0: 277.3, l1: 291.7, tx: 293, fs: 6, sx: 1.1 } },
  { id: 'g', x0: 22.3, x1: 226.7, yTop: 599.3, yBot: 759.7, title: PR, titleY: 593.3, yLabel: PY, yLabelX: 5, xLabelY: 775, tag: '(g)', tagX: 1.5, tagY: 777.5,
    names: sNames, lines: gLines, colors: seriesColors, markers: seriesMarkers, dashed: seriesDashed,
    legend: { x: 131.3, y: 670, w: 39.4, h: 89, first: 674, step: 7.42, l0: 133.3, l1: 148, tx: 150, fs: 6.2, sx: 1 } },
  { id: 'h', x0: 271.3, x1: 475.3, yTop: 603.7, yBot: 763.7, title: ER, titleY: 598.3, yLabel: EY, yLabelX: 251.7, xLabelY: 777.7, tag: '(h)', tagX: 241.5, tagY: 776,
    names: sNames, lines: hLines, colors: seriesColors, markers: seriesMarkers, dashed: seriesDashed,
    legend: { x: 275.7, y: 606.3, w: 28.3, h: 87.4, first: 611, step: 7.18, l0: 277.3, l1: 291.7, tx: 293, fs: 5.8, sx: 0.62 } },
  { id: 'i', x0: 26.3, x1: 228.7, yTop: 797.7, yBot: 958, title: PR, titleY: 792, yLabel: PY, yLabelX: 5, xLabelY: 971.5, tag: '(i)', tagX: 1.5, tagY: 969.5,
    names: xNames, lines: iLines, colors: seriesColors, markers: seriesMarkers, dashed: seriesDashed,
    legend: { x: 30.3, y: 867.3, w: 71.4, h: 86.7, first: 870.8, step: 7.18, l0: 33, l1: 46, tx: 47.5, fs: 6.3, sx: 1.05 } },
  { id: 'j', x0: 271.3, x1: 475.3, yTop: 797.7, yBot: 958.3, title: ER, titleY: 791.7, yLabel: EY, yLabelX: 251.7, xLabelY: 971.5, tag: '(j)', tagX: 241.5, tagY: 969.5,
    names: xNames, lines: jLines, colors: seriesColors, markers: seriesMarkers, dashed: seriesDashed,
    legend: { x: 275, y: 801.3, w: 72.7, h: 86.7, first: 805, step: 7.24, l0: 277, l1: 292, tx: 293.5, fs: 6.3, sx: 1.05 } },
];

export default function App() {
  return (
    <svg width={483} height={976} viewBox="0 0 483 976" style={{ position: 'absolute', left: 0, top: 0, background: '#fff' }}>
      <rect x={0} y={0} width={483} height={976} fill="#fff" />
      {panels.map((p) => <Panel key={p.id} p={p} />)}
    </svg>
  );
}
